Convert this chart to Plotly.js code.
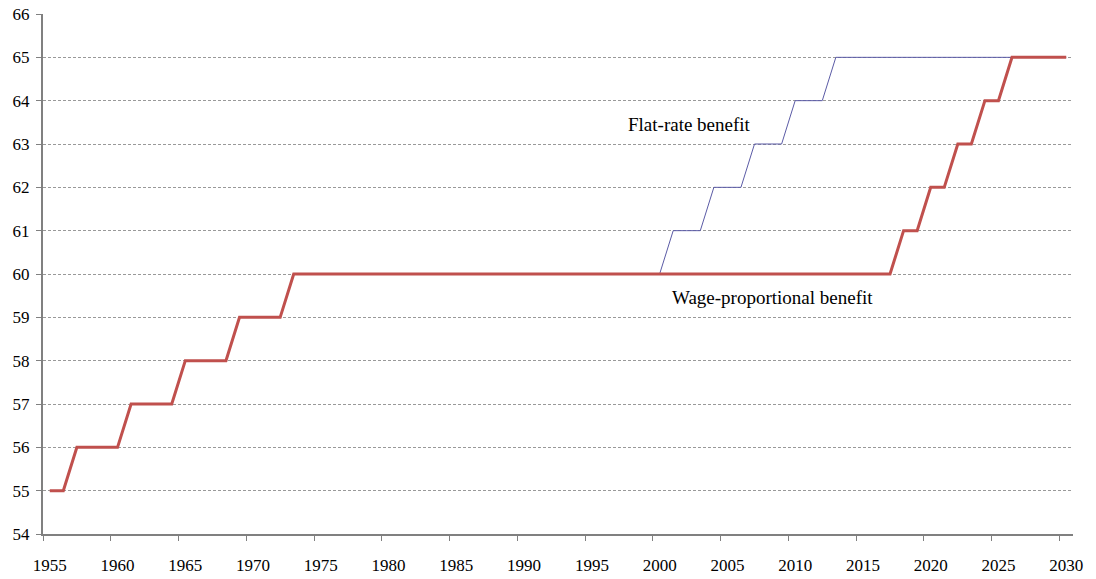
<!DOCTYPE html>
<html>
<head>
<meta charset="utf-8">
<script src="https://cdn.plot.ly/plotly-3.0.1.min.js"></script>
<style>html,body{margin:0;padding:0;background:#fff;}#chart{width:1096px;height:579px;}</style>
</head>
<body>
<div id="chart"></div>
<script>
const years = [];
for (let y = 1955; y <= 2030; y++) years.push(y);

const wageProportional = [
  55,55,56,56,56,56,57,57,57,57,58,58,58,58,59,59,59,59, // 1955-1972
  60,60,60,60,60,60,60,60,60,60,60,60,60,60,60,60,60,60,60,60, // 1973-1992
  60,60,60,60,60,60,60,60,60,60,60,60,60,60,60,60,60,60,60,60,60,60,60,60, // 1993-2016
  60,61,61,62,62,63,63,64,64,65,65,65,65,65 // 2017-2030
];

const flatYears = [];
for (let y = 2000; y <= 2030; y++) flatYears.push(y);
const flatRate = [
  60,61,61,61,62,62,62,63,63,63,64,64,64, // 2000-2012
  65,65,65,65,65,65,65,65,65,65,65,65,65,65,65,65,65,65 // 2013-2030
];

const tickYears = [1955,1960,1965,1970,1975,1980,1985,1990,1995,2000,2005,2010,2015,2020,2025,2030];
const yTicks = [54,55,56,57,58,59,60,61,62,63,64,65,66];

const FAM = 'Liberation Serif';
const XRANGE = [1954.5, 2030.5];

const traces = [
  {x: flatYears, y: flatRate, type: 'scatter', mode: 'lines', name: 'Flat-rate benefit',
   xaxis: 'x', yaxis: 'y',
   line: {color: '#5B5BA6', width: 1}},
  {x: years, y: wageProportional, type: 'scatter', mode: 'lines', name: 'Wage-proportional benefit',
   xaxis: 'x2', yaxis: 'y',
   line: {color: '#C0504D', width: 3}}
];

const layout = {
  width: 1096, height: 579,
  margin: {l: 43, r: 23, t: 14, b: 45},
  paper_bgcolor: '#fff', plot_bgcolor: '#fff',
  showlegend: false,
  font: {family: FAM, size: 17, color: '#000'},
  xaxis: {
    range: XRANGE,
    tickmode: 'array',
    tickvals: tickYears.map(v => v - 0.5),
    showticklabels: false,
    ticks: 'outside', ticklen: 5, tickwidth: 1, tickcolor: '#808080',
    showline: true, linecolor: '#808080', linewidth: 2,
    showgrid: false, zeroline: false
  },
  xaxis2: {
    overlaying: 'x', side: 'bottom',
    range: XRANGE,
    tickmode: 'array',
    tickvals: tickYears,
    ticktext: tickYears.map(String),
    ticks: 'outside', ticklen: 5, tickcolor: 'rgba(0,0,0,0)',
    ticklabelstandoff: 11,
    showline: false, showgrid: false, zeroline: false,
    tickfont: {family: FAM, size: 17, color: '#000'}
  },
  yaxis: {
    range: [54, 66],
    tickmode: 'array', tickvals: yTicks, ticktext: yTicks.map(String),
    ticks: 'outside', ticklen: 5, tickwidth: 1, tickcolor: '#808080',
    ticklabelstandoff: 3,
    showline: true, linecolor: '#808080', linewidth: 2,
    showgrid: true, gridcolor: '#999', gridwidth: 1, griddash: '3px,2px',
    zeroline: false,
    tickfont: {family: FAM, size: 17, color: '#000'}
  },
  annotations: [
    {x: 2002.2, y: 63.46, xref: 'x', yref: 'y', text: 'Flat-rate benefit', showarrow: false,
     font: {family: FAM, size: 19, color: '#000'}},
    {x: 2008.36, y: 59.45, xref: 'x', yref: 'y', text: 'Wage-proportional benefit', showarrow: false,
     font: {family: FAM, size: 19, color: '#000'}}
  ]
};

Plotly.newPlot('chart', traces, layout, {displayModeBar: false, staticPlot: true});
</script>
</body>
</html>
